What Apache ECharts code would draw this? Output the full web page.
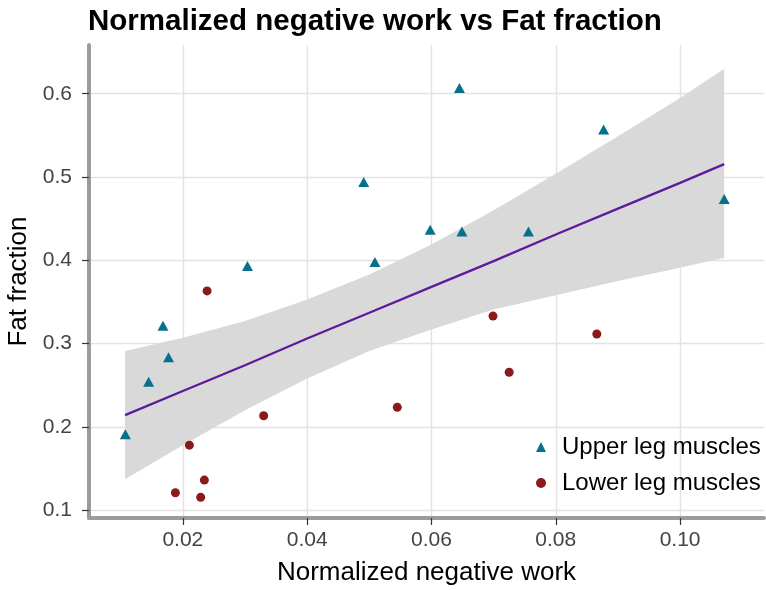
<!DOCTYPE html>
<html>
<head>
<meta charset="utf-8">
<script src="https://cdn.jsdelivr.net/npm/echarts@6/dist/echarts.min.js"></script>
<style>
html,body{margin:0;padding:0;background:#fff;}
#chart{width:766px;height:590px;}
</style>
</head>
<body>
<div id="chart"></div>
<script>
// ---- Data ----
const upperX = [0.01075, 0.0145, 0.0168, 0.0177, 0.0304, 0.0491, 0.0509, 0.0598, 0.0645, 0.0649, 0.0756, 0.0877, 0.1071];
const upperY = [0.191, 0.254, 0.3215, 0.2835, 0.393, 0.494, 0.398, 0.4365, 0.607, 0.4345, 0.4345, 0.557, 0.4735];

const lowerX = [0.0239, 0.0330, 0.02105, 0.02346, 0.0188, 0.02287, 0.0545, 0.0699, 0.0725, 0.0866];
const lowerY = [0.3632, 0.2133, 0.178, 0.136, 0.1208, 0.1153, 0.2234, 0.333, 0.2655, 0.3115];

// fitted line and confidence band, read at several x positions
const bandX     = [0.0107, 0.02, 0.03, 0.04, 0.05, 0.06, 0.07, 0.08, 0.09, 0.10, 0.1071];
const fitY      = [0.214, 0.243, 0.274, 0.306, 0.337, 0.368, 0.399, 0.431, 0.462, 0.493, 0.5155];
const bandUpper = [0.291, 0.307, 0.327, 0.353, 0.383, 0.419, 0.460, 0.504, 0.549, 0.595, 0.630];
const bandLower = [0.137, 0.178, 0.220, 0.258, 0.291, 0.317, 0.341, 0.358, 0.375, 0.391, 0.403];

const xTicks = [0.02, 0.04, 0.06, 0.08, 0.10];
const xTickLabels = ['0.02', '0.04', '0.06', '0.08', '0.10'];
const yTicks = [0.1, 0.2, 0.3, 0.4, 0.5, 0.6];
const yTickLabels = ['0.1', '0.2', '0.3', '0.4', '0.5', '0.6'];

const seriesNames = ['Upper leg muscles', 'Lower leg muscles'];
const titleText = 'Normalized negative work vs Fat fraction';
const xTitle = 'Normalized negative work';
const yTitle = 'Fat fraction';

// ---- Chart ----
const FONT = "'Liberation Sans', Arial, sans-serif";
const chart = echarts.init(document.getElementById('chart'), null, {renderer: 'canvas'});

const zip = (a, b) => a.map((v, i) => [v, b[i]]);

const option = {
  animation: false,
  backgroundColor: '#ffffff',
  title: {
    text: titleText,
    left: 88,
    top: 7,
    padding: 0,
    textStyle: {fontFamily: FONT, fontSize: 29.5, fontWeight: 'bold', color: '#000'}
  },
  grid: {left: 89, right: 2, top: 45, bottom: 72, containLabel: false, outerBoundsMode: 'none'},
  xAxis: {
    type: 'value',
    min: 0.0049,
    max: 0.1135,
    name: xTitle,
    nameLocation: 'middle',
    nameGap: 42,
    nameTextStyle: {fontFamily: FONT, fontSize: 26, color: '#000'},
    axisLine: {show: true, onZero: false, lineStyle: {color: '#9c9c9c', width: 4}},
    axisTick: {show: true, length: 7, customValues: xTicks, lineStyle: {color: '#333', width: 1.2}},
    axisLabel: {
      customValues: xTicks,
      margin: 12,
      fontFamily: FONT, fontSize: 21, color: '#444',
      formatter: v => { const i = xTicks.findIndex(t => Math.abs(t - v) < 1e-9); return i >= 0 ? xTickLabels[i] : ''; }
    },
    splitLine: {show: true, lineStyle: {color: '#e3e3e3', width: 1.4}}
  },
  yAxis: {
    type: 'value',
    min: 0.0905,
    max: 0.6585,
    name: yTitle,
    nameLocation: 'middle',
    nameGap: 48,
    nameRotate: 90,
    nameTextStyle: {fontFamily: FONT, fontSize: 26, color: '#000'},
    axisLine: {show: true, onZero: false, lineStyle: {color: '#9c9c9c', width: 4}},
    axisTick: {show: true, length: 7, customValues: yTicks, lineStyle: {color: '#333', width: 1.2}},
    axisLabel: {
      customValues: yTicks,
      margin: 17,
      fontFamily: FONT, fontSize: 21, color: '#444',
      formatter: v => { const i = yTicks.findIndex(t => Math.abs(t - v) < 1e-9); return i >= 0 ? yTickLabels[i] : ''; }
    },
    splitLine: {show: true, lineStyle: {color: '#e3e3e3', width: 1.4}}
  },
  legend: {
    data: [
      {name: seriesNames[0], icon: 'triangle'},
      {name: seriesNames[1], icon: 'circle'}
    ],
    orient: 'vertical',
    left: 531,
    top: 430,
    itemWidth: 10,
    itemHeight: 10,
    itemGap: 12,
    textStyle: {fontFamily: FONT, fontSize: 24, color: '#000', lineHeight: 24, padding: [0, 0, 0, 11]}
  },
  series: [
    {
      type: 'custom',
      name: 'band',
      silent: true,
      z: 1,
      clip: true,
      data: [[bandX[0], bandLower[0]]],
      renderItem: function (params, api) {
        const pts = [];
        for (let i = 0; i < bandX.length; i++) pts.push(api.coord([bandX[i], bandUpper[i]]));
        for (let i = bandX.length - 1; i >= 0; i--) pts.push(api.coord([bandX[i], bandLower[i]]));
        return {type: 'polygon', shape: {points: pts, smooth: 0}, style: {fill: '#d9d9d9'}};
      }
    },
    {
      type: 'line',
      name: 'fit',
      silent: true,
      z: 2,
      data: zip(bandX, fitY),
      showSymbol: false,
      symbol: 'none',
      lineStyle: {color: '#5b1b9b', width: 2.3}
    },
    {
      type: 'scatter',
      name: seriesNames[0],
      z: 3,
      symbol: 'triangle',
      symbolSize: [11, 10],
      itemStyle: {color: '#07708c', opacity: 1},
      data: zip(upperX, upperY)
    },
    {
      type: 'scatter',
      name: seriesNames[1],
      z: 3,
      symbol: 'circle',
      symbolSize: 9,
      itemStyle: {color: '#8b1a1a', opacity: 1},
      data: zip(lowerX, lowerY)
    }
  ]
};
chart.setOption(option);
</script>
</body>
</html>
